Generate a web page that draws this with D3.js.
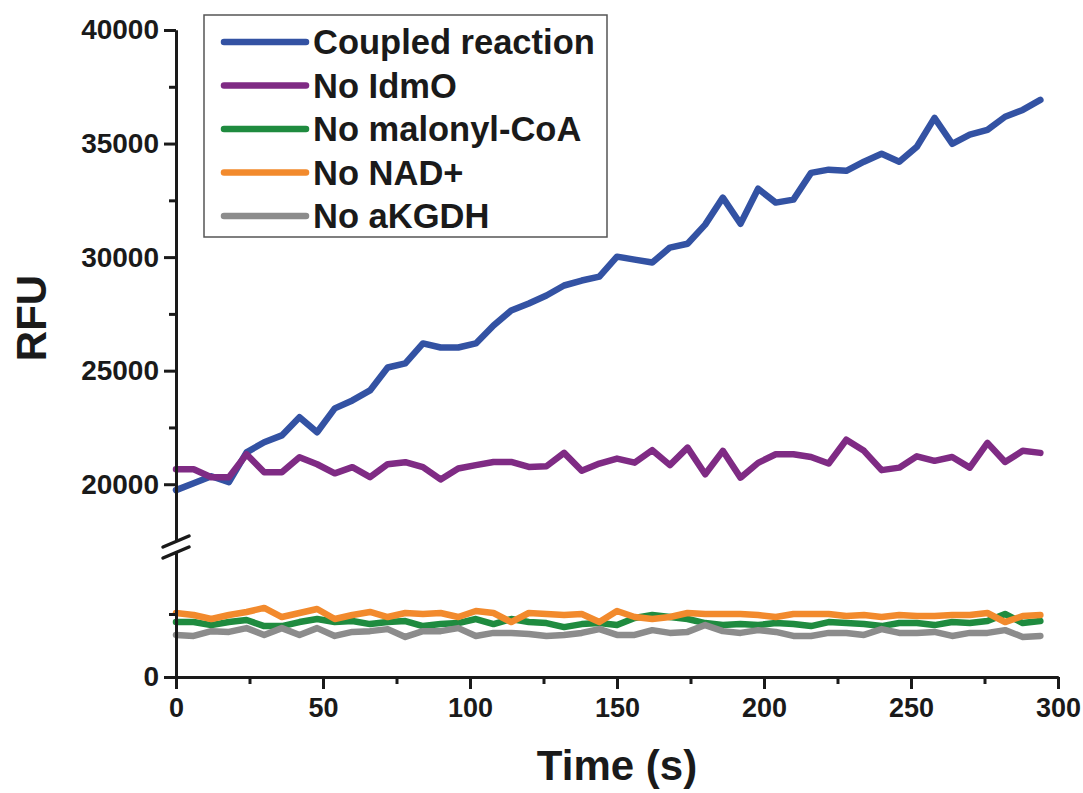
<!DOCTYPE html>
<html>
<head>
<meta charset="utf-8">
<script src="https://cdn.jsdelivr.net/npm/d3@7"></script>
<style>
  body { margin: 0; background: #fff; }
  text { font-family: "Liberation Sans", Arial, sans-serif; font-weight: bold; fill: #1a1a1a; }
</style>
</head>
<body>
<svg id="chart" width="1083" height="793"></svg>
<script>
// Sampling times (s)
const time = [0, 6, 12, 18, 24, 30, 36, 42, 48, 54, 60, 66, 72, 78, 84, 90, 96, 102, 108, 114,
  120, 126, 132, 138, 144, 150, 156, 162, 168, 174, 180, 186, 192, 198, 204, 210, 216, 222, 228, 234,
  240, 246, 252, 258, 264, 270, 276, 282, 288, 294];

// Fluorescence readings (RFU)
const coupled = [19740, 20040, 20350, 20090, 21400, 21850, 22150, 22950, 22290, 23340,
  23690, 24130, 25140, 25320, 26200, 26020, 26020, 26200, 26990, 27650,
  27960, 28310, 28750, 28970, 29140, 30020, 29890, 29760, 30420, 30590,
  31430, 32620, 31470, 33010, 32400, 32530, 33710, 33850, 33800, 34200,
  34550, 34200, 34860, 36130, 34990, 35390, 35600, 36180, 36480, 36920];
const noIdmO = [20660, 20660, 20310, 20310, 21320, 20530, 20530, 21190, 20880, 20480,
  20750, 20310, 20880, 20970, 20750, 20210, 20690, 20840, 20980, 20980,
  20760, 20790, 21380, 20590, 20910, 21130, 20950, 21500, 20840, 21610,
  20440, 21470, 20290, 20940, 21320, 21320, 21200, 20910, 21960, 21470,
  20620, 20730, 21230, 21030, 21200, 20730, 21820, 20980, 21470, 21380];
const noMalonylCoA = [2180, 2180, 2060, 2180, 2260, 2020, 2020, 2180, 2300, 2180,
  2220, 2100, 2180, 2220, 2020, 2100, 2140, 2300, 2100, 2300,
  2180, 2140, 1980, 2100, 2140, 2060, 2340, 2460, 2380, 2300,
  2140, 2060, 2100, 2060, 2140, 2100, 2020, 2180, 2140, 2100,
  2020, 2140, 2140, 2060, 2180, 2140, 2220, 2500, 2140, 2220];
const noNAD = [2540, 2460, 2300, 2460, 2580, 2740, 2380, 2540, 2700, 2300,
  2460, 2580, 2380, 2540, 2500, 2540, 2380, 2620, 2540, 2180,
  2540, 2500, 2460, 2500, 2180, 2620, 2380, 2300, 2380, 2540,
  2500, 2500, 2500, 2460, 2380, 2500, 2500, 2500, 2420, 2460,
  2380, 2460, 2420, 2420, 2460, 2460, 2540, 2180, 2420, 2460];
const noAKGDH = [1670, 1630, 1820, 1790, 1940, 1670, 1940, 1670, 1940, 1630,
  1790, 1820, 1900, 1590, 1820, 1820, 1940, 1630, 1750, 1750,
  1710, 1630, 1670, 1750, 1900, 1670, 1670, 1860, 1750, 1790,
  2060, 1820, 1750, 1860, 1790, 1630, 1630, 1750, 1750, 1670,
  1900, 1750, 1750, 1790, 1630, 1750, 1750, 1860, 1590, 1630];

const seriesNames = ["Coupled reaction", "No IdmO", "No malonyl-CoA", "No NAD+", "No aKGDH"];
const seriesColors = ["#3352a3", "#7f2b84", "#1f8b3f", "#f28a2d", "#8c8c8c"];
const seriesValues = [coupled, noIdmO, noMalonylCoA, noNAD, noAKGDH];
const seriesSegment = ["upper", "upper", "lower", "lower", "lower"];

// Axis ticks
const xMajorTicks = [0, 50, 100, 150, 200, 250, 300];
const xMinorTicks = [25, 75, 125, 175, 225, 275];
const yUpperMajor = [20000, 25000, 30000, 35000, 40000];
const yUpperMinor = [22500, 27500, 32500, 37500];
const yLowerMajor = [0];
const yLowerMinor = [2500];

const svg = d3.select("#chart");
svg.append("rect").attr("width", 1083).attr("height", 793).attr("fill", "#fff");

const axisX = 176;
const x = d3.scaleLinear().domain([0, 300]).range([axisX, 1058]);
// Broken y axis: two linear segments
const yUpper = d3.scaleLinear().domain([17500, 40000]).range([541, 30]);
const yLower = d3.scaleLinear().domain([0, 5000]).range([677, 551]);
const yOf = { upper: yUpper, lower: yLower };

const axisColor = "#1a1a1a";
function styleAxis(g, fontSize) {
  g.select(".domain").attr("stroke", axisColor).attr("stroke-width", 3);
  g.selectAll(".tick line").attr("stroke", axisColor).attr("stroke-width", 3);
  g.selectAll(".tick text")
    .attr("fill", axisColor)
    .style("font-size", fontSize + "px")
    .style("font-weight", "bold")
    .style("font-family", '"Liberation Sans", Arial, sans-serif');
}

// Lines (drawn first, axes over them)
const plot = svg.append("g");
seriesValues.forEach((vals, i) => {
  const ys = yOf[seriesSegment[i]];
  const line = d3.line().x((d, j) => x(time[j])).y(d => ys(d));
  plot.append("path")
    .datum(vals)
    .attr("d", line)
    .attr("fill", "none")
    .attr("stroke", seriesColors[i])
    .attr("stroke-width", 6.5)
    .attr("stroke-linejoin", "round")
    .attr("stroke-linecap", "round");
});

// Y axis, upper segment
const gUp = svg.append("g").attr("transform", `translate(${axisX},0)`)
  .call(d3.axisLeft(yUpper).tickValues(yUpperMajor).tickSize(12).tickSizeOuter(0).tickPadding(5).tickFormat(d3.format("d")));
styleAxis(gUp, 28);
const gUpMinor = svg.append("g").attr("transform", `translate(${axisX},0)`)
  .call(d3.axisLeft(yUpper).tickValues(yUpperMinor).tickSize(7).tickSizeOuter(0).tickFormat(""));
styleAxis(gUpMinor, 28);

// Y axis, lower segment
const gLo = svg.append("g").attr("transform", `translate(${axisX},0)`)
  .call(d3.axisLeft(yLower).tickValues(yLowerMajor).tickSize(12).tickSizeOuter(0).tickPadding(5).tickFormat(d3.format("d")));
styleAxis(gLo, 28);
const gLoMinor = svg.append("g").attr("transform", `translate(${axisX},0)`)
  .call(d3.axisLeft(yLower).tickValues(yLowerMinor).tickSize(7).tickSizeOuter(0).tickFormat(""));
styleAxis(gLoMinor, 28);

// Axis break marks
const breakTop = yUpper.range()[0], breakBottom = yLower.range()[1];
[breakTop + 1, breakBottom + 2].forEach(yy => {
  svg.append("line")
    .attr("x1", axisX - 13).attr("y1", yy + 5)
    .attr("x2", axisX + 13).attr("y2", yy - 6)
    .attr("stroke", axisColor).attr("stroke-width", 3.5).attr("stroke-linecap", "round");
});

// X axis
const gX = svg.append("g").attr("transform", `translate(0,${yLower(0)})`)
  .call(d3.axisBottom(x).tickValues(xMajorTicks).tickSize(12).tickSizeOuter(0).tickPadding(9));
styleAxis(gX, 27);
const gXMinor = svg.append("g").attr("transform", `translate(0,${yLower(0)})`)
  .call(d3.axisBottom(x).tickValues(xMinorTicks).tickSize(7).tickSizeOuter(0).tickFormat(""));
styleAxis(gXMinor, 27);

// Axis titles
svg.append("text")
  .attr("x", x(150)).attr("y", 780)
  .attr("text-anchor", "middle")
  .style("font-size", "42px")
  .text("Time (s)");
svg.append("text")
  .attr("transform", "translate(46,318) rotate(-90)")
  .attr("text-anchor", "middle")
  .style("font-size", "42px")
  .text("RFU");

// Legend
const legend = svg.append("g");
legend.append("rect")
  .attr("x", 204).attr("y", 15).attr("width", 403).attr("height", 222)
  .attr("fill", "#fff").attr("stroke", "#555").attr("stroke-width", 1.5);
seriesNames.forEach((name, i) => {
  const yy = 42 + i * 43.5;
  legend.append("line")
    .attr("x1", 224).attr("x2", 306).attr("y1", yy).attr("y2", yy)
    .attr("stroke", seriesColors[i]).attr("stroke-width", 6.5).attr("stroke-linecap", "round");
  legend.append("text")
    .attr("x", 313).attr("y", yy + 12)
    .style("font-size", "34.5px")
    .text(name);
});
</script>
</body>
</html>
